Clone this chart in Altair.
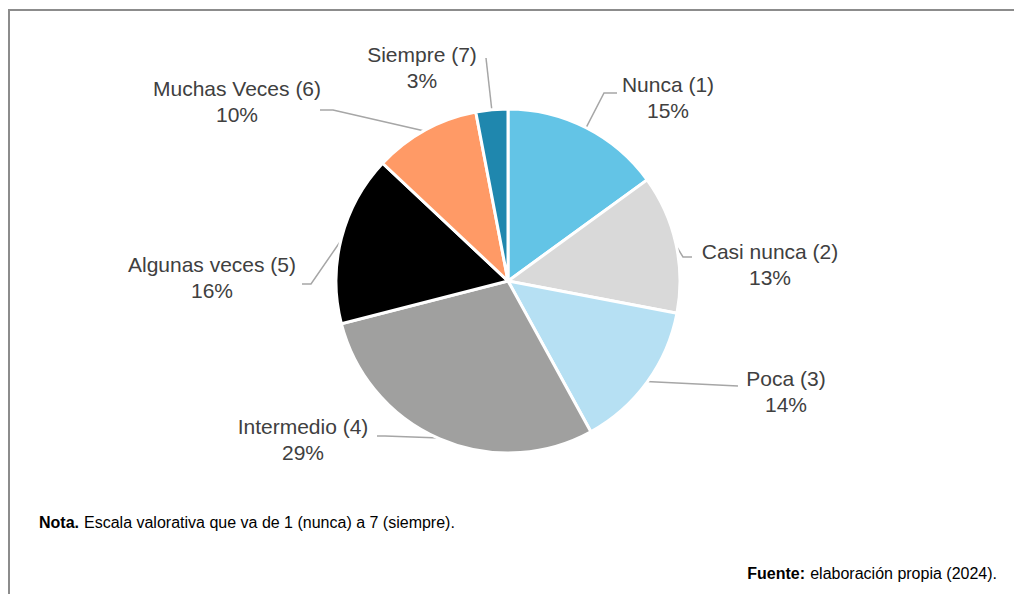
import math
import altair as alt
import pandas as pd

# ---- data ----
categories = ["Nunca (1)", "Casi nunca (2)", "Poca (3)", "Intermedio (4)",
              "Algunas veces (5)", "Muchas Veces (6)", "Siempre (7)"]
percentages = [15, 13, 14, 29, 16, 10, 3]
colors = ["#63C4E6", "#D9D9D9", "#B6E0F3", "#A0A09F", "#000000", "#FF9A66", "#1F87AE"]

nota_bold = "Nota."
nota_text = "Escala valorativa que va de 1 (nunca) a 7 (siempre)."
fuente_bold = "Fuente:"
fuente_text = "elaboración propia (2024)."

# ---- layout (pixels, relative to the pie centre) ----
W, H = 1006, 586
CX, CY, R = 500, 273, 172
label_dx = [160, 262, 278, -205, -296, -271, -86]
label_dy = [-182, -15, 112, 160, -2, -178, -212]
elbow_dx = [96, 175, 230, -123, -197, -175, -22]
elbow_dy = [-188, -24, 105, 155, 3, -171, -223]
end_dx = [109, 184, 230, -131, -206, -188, -22]
end_dy = [-188, -24, 105, 155, 3, -171, -223]
LINE_GAP = 13
FONT = "Liberation Sans"
TEXT_COLOR = "#404040"
LABEL_SIZE = 21
FOOT_SIZE = 16

pie_df = pd.DataFrame({"cat": categories, "value": percentages,
                       "idx": list(range(len(categories)))})

total = sum(percentages)
rows_lines, rows_text = [], []
cum = 0
for i, (c, v) in enumerate(zip(categories, percentages)):
    mid = (cum + v / 2) / total * 2 * math.pi
    cum += v
    sx = CX + (R - 1) * math.sin(mid)
    sy = CY - (R - 1) * math.cos(mid)
    pts = [(sx, sy), (CX + elbow_dx[i], CY + elbow_dy[i]), (CX + end_dx[i], CY + end_dy[i])]
    for k, (px, py) in enumerate(pts):
        rows_lines.append({"cat": c, "ord": k, "x": px, "y": py})
    rows_text.append({"cat": c, "pct": f"{v}%", "x": CX + label_dx[i],
                      "y1": CY + label_dy[i] - LINE_GAP, "y2": CY + label_dy[i] + LINE_GAP})
lines_df = pd.DataFrame(rows_lines)
text_df = pd.DataFrame(rows_text)

xs = alt.Scale(domain=[0, W], nice=False, zero=False)
ys = alt.Scale(domain=[0, H], nice=False, zero=False, reverse=True)

pie = alt.Chart(pie_df).mark_arc(outerRadius=R, stroke="white", strokeWidth=3).encode(
    theta=alt.Theta("value:Q", stack=True),
    order=alt.Order("idx:Q"),
    color=alt.Color("cat:N", scale=alt.Scale(domain=categories, range=colors), legend=None),
    x=alt.value(CX),
    y=alt.value(CY),
)

leaders = alt.Chart(lines_df).mark_line(color="#A6A6A6", strokeWidth=1.5).encode(
    x=alt.X("x:Q", scale=xs, axis=None),
    y=alt.Y("y:Q", scale=ys, axis=None),
    detail="cat:N",
    order="ord:Q",
)

names = alt.Chart(text_df).mark_text(font=FONT, fontSize=LABEL_SIZE, color=TEXT_COLOR,
                                     align="center", baseline="middle").encode(
    x=alt.X("x:Q", scale=xs, axis=None),
    y=alt.Y("y1:Q", scale=ys, axis=None),
    text="cat:N",
)
pcts = alt.Chart(text_df).mark_text(font=FONT, fontSize=LABEL_SIZE, color=TEXT_COLOR,
                                    align="center", baseline="middle").encode(
    x=alt.X("x:Q", scale=xs, axis=None),
    y=alt.Y("y2:Q", scale=ys, axis=None),
    text="pct:N",
)

foot_df = pd.DataFrame({"a": [0]})
nota_b = alt.Chart(foot_df).mark_text(text=nota_bold, font=FONT, fontSize=FOOT_SIZE, fontWeight="bold",
                                      color="#000000", align="left", baseline="alphabetic").encode(
    x=alt.value(31), y=alt.value(520))
nota_r = alt.Chart(foot_df).mark_text(text=nota_text, font=FONT, fontSize=FOOT_SIZE,
                                      color="#000000", align="left", baseline="alphabetic").encode(
    x=alt.value(76), y=alt.value(520))
fuente_r = alt.Chart(foot_df).mark_text(text=fuente_text, font=FONT, fontSize=FOOT_SIZE,
                                        color="#000000", align="right", baseline="alphabetic").encode(
    x=alt.value(989), y=alt.value(571))
fuente_b = alt.Chart(foot_df).mark_text(text=fuente_bold, font=FONT, fontSize=FOOT_SIZE, fontWeight="bold",
                                        color="#000000", align="right", baseline="alphabetic").encode(
    x=alt.value(797), y=alt.value(571))

border_top = alt.Chart(foot_df).mark_rule(color="#8C8C8C", strokeWidth=2).encode(
    x=alt.value(0), x2=alt.value(W), y=alt.value(2))
border_left = alt.Chart(foot_df).mark_rule(color="#8C8C8C", strokeWidth=2).encode(
    x=alt.value(1), y=alt.value(2), y2=alt.value(H))

chart = alt.layer(
    border_top, border_left, leaders, pie, names, pcts, nota_b, nota_r, fuente_b, fuente_r
).properties(
    width=W, height=H, padding=0, autosize=alt.AutoSizeParams(type="none")
).configure_view(strokeWidth=0)

chart.save("out.html", embed_options={"renderer": "svg", "actions": False})
